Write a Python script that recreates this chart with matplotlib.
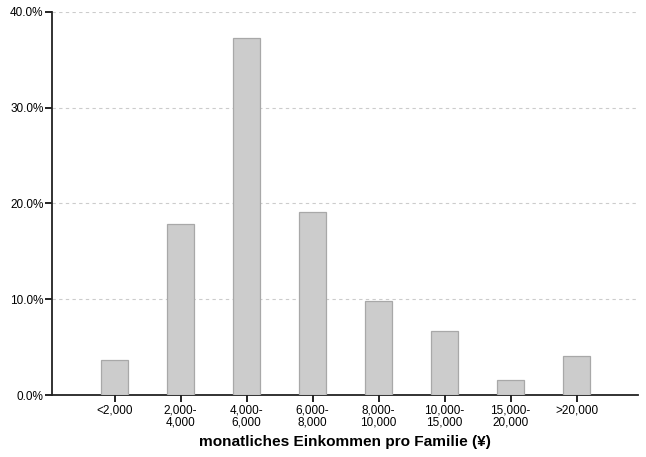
import matplotlib
matplotlib.use("Agg")
import matplotlib.pyplot as plt
from matplotlib.ticker import FuncFormatter, MultipleLocator

plt.rcParams['font.family'] = ['Liberation Sans', 'DejaVu Sans']

categories = ["<2,000", "2,000-\n4,000", "4,000-\n6,000", "6,000-\n8,000",
              "8,000-\n10,000", "10,000-\n15,000", "15,000-\n20,000", ">20,000"]
values = [3.7, 17.9, 37.3, 19.1, 9.8, 6.7, 1.6, 4.1]
xlabel = "monatliches Einkommen pro Familie (¥)"

fig = plt.figure(figsize=(6.46, 4.57), dpi=100)
ax = fig.add_axes([52/646, 1-395/457, (638-52)/646, (395-12)/457])

x = list(range(len(categories)))
ax.bar(x, values, width=0.41, color="#cccccc", edgecolor="#a8a8a8", linewidth=0.9, zorder=3)

ax.set_xlim(-0.947, 7.93)
ax.set_ylim(0, 40)
ax.yaxis.set_major_locator(MultipleLocator(10))
ax.yaxis.set_major_formatter(FuncFormatter(lambda v, p: f"{v:.1f}%"))
ax.set_xticks(x)
ax.set_xticklabels(categories, fontsize=8.5, linespacing=0.95)
ax.tick_params(axis='y', labelsize=8.5, length=5, width=1.2, direction='out', pad=1)
ax.tick_params(axis='x', length=5, width=1.2, direction='out', pad=2)

ax.grid(axis='y', linestyle=(0, (3, 3)), color="#cccccc", linewidth=0.8, zorder=0)
ax.set_axisbelow(True)
for s in ['top', 'right']:
    ax.spines[s].set_visible(False)
for s in ['left', 'bottom']:
    ax.spines[s].set_linewidth(1.3)
    ax.spines[s].set_color("#222222")

ax.set_xlabel(xlabel, fontsize=11.1, fontweight='bold', labelpad=5)

fig.savefig("out.png", dpi=100)
